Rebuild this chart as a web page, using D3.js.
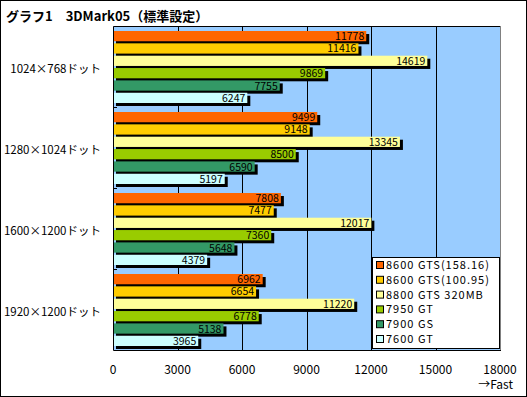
<!DOCTYPE html>
<html>
<head>
<meta charset="utf-8">
<style>
  body { margin: 0; background: white; }
  svg { display: block; font-family: 'Noto Sans CJK JP', 'DejaVu Sans', sans-serif; }
</style>
</head>
<body>
<svg width="527" height="397"></svg>
<script src="https://d3js.org/d3.v7.min.js"></script>
<script>
// data
let categories = ["1024×768ドット", "1280×1024ドット", "1600×1200ドット", "1920×1200ドット"];
let seriesNames = ["8600 GTS(158.16)", "8600 GTS(100.95)", "8800 GTS 320MB", "7950 GT", "7900 GS", "7600 GT"];
let seriesColors = ["#ff6600", "#ffcc00", "#ffff99", "#99cc00", "#339966", "#ccffff"];
let values = [
  [11778, 11416, 14619, 9869, 7755, 6247],
  [9499, 9148, 13345, 8500, 6590, 5197],
  [7808, 7477, 12017, 7360, 5648, 4379],
  [6962, 6654, 11220, 6778, 5138, 3965]
];
let xTicks = [0, 3000, 6000, 9000, 12000, 15000, 18000];

let svg = d3.select("svg");
let plot = {left: 113, right: 500, top: 26, bottom: 350};

// outer frame
svg.append("rect")
  .attr("x", 0.5).attr("y", 0.5)
  .attr("width", 526).attr("height", 396)
  .attr("fill", "white").attr("stroke", "black");

svg.append("text")
  .attr("x", 6).attr("y", 21)
  .attr("font-size", 13).attr("font-weight", "bold")
  .text("グラフ1　3DMark05（標準設定）");

let x = d3.scaleLinear().domain([0, 18000]).range([plot.left, plot.right]);
let y = d3.scaleBand().domain(categories).range([plot.top, plot.bottom]);
let yInner = d3.scaleBand().domain(seriesNames).range([5, 77]).paddingInner(0.17);

// plot background
svg.append("rect")
  .attr("x", plot.left).attr("y", plot.top)
  .attr("width", plot.right - plot.left).attr("height", plot.bottom - plot.top)
  .attr("fill", "#99ccff");

// gridlines
svg.append("g")
  .selectAll("line")
  .data(xTicks.slice(1, -1))
  .join("line")
  .attr("x1", d => Math.round(x(d)) + 0.5).attr("x2", d => Math.round(x(d)) + 0.5)
  .attr("y1", plot.top).attr("y2", plot.bottom)
  .attr("stroke", "black");

// plot border
svg.append("line").attr("x1", plot.right + 0.5).attr("x2", plot.right + 0.5)
  .attr("y1", plot.top).attr("y2", plot.bottom).attr("stroke", "#808080");
svg.append("path")
  .attr("d", `M${plot.right},${plot.top + 0.5}H${plot.left + 0.5}V${plot.bottom + 0.5}H${plot.right + 1}`)
  .attr("fill", "none").attr("stroke", "black");

// category ticks
svg.append("g")
  .selectAll("line")
  .data(categories.slice(1))
  .join("line")
  .attr("x1", plot.left).attr("x2", plot.left + 4)
  .attr("y1", d => y(d) + 0.5).attr("y2", d => y(d) + 0.5)
  .attr("stroke", "black");

// bars
let groups = svg.append("g")
  .selectAll("g")
  .data(values)
  .join("g")
  .attr("transform", (d, i) => `translate(0,${y(categories[i])})`);

let bars = groups.selectAll("g")
  .data(d => d.map((v, j) => ({v: v, name: seriesNames[j], color: seriesColors[j]})))
  .join("g");

bars.append("rect")
  .attr("x", plot.left + 3).attr("y", d => yInner(d.name) + 3)
  .attr("width", d => x(d.v) - plot.left).attr("height", yInner.bandwidth())
  .attr("fill", "black");

bars.append("rect")
  .attr("x", plot.left + 1).attr("y", d => yInner(d.name))
  .attr("width", d => x(d.v) - plot.left - 1).attr("height", yInner.bandwidth())
  .attr("fill", d => d.color);

bars.append("text")
  .attr("x", d => x(d.v) - 2).attr("y", d => yInner(d.name) + yInner.bandwidth() / 2 + 4)
  .attr("text-anchor", "end").attr("font-size", 10.5)
  .text(d => d.v);

// category labels
svg.append("g")
  .selectAll("text")
  .data(categories)
  .join("text")
  .attr("x", 101).attr("y", d => y(d) + y.bandwidth() / 2 + 6)
  .attr("text-anchor", "end").attr("font-size", 11.5)
  .text(d => d);

// x axis labels
svg.append("g")
  .selectAll("text")
  .data(xTicks)
  .join("text")
  .attr("x", d => x(d)).attr("y", 374)
  .attr("text-anchor", "middle").attr("font-size", 12)
  .text(d => d);

svg.append("text")
  .attr("x", 513).attr("y", 389)
  .attr("text-anchor", "end").attr("font-size", 12)
  .text("→Fast");

// legend
let legend = svg.append("g").attr("transform", "translate(372,257)");
legend.append("rect")
  .attr("x", 0.5).attr("y", 0.5).attr("width", 127).attr("height", 91)
  .attr("fill", "white").attr("stroke", "black");

let items = legend.selectAll("g.item")
  .data(seriesNames)
  .join("g")
  .attr("class", "item")
  .attr("transform", (d, i) => `translate(0,${8 + i * 14.8})`);

items.append("rect")
  .attr("x", 4.5).attr("y", -3.5).attr("width", 7).attr("height", 7)
  .attr("fill", (d, i) => seriesColors[i]).attr("stroke", "black");

items.append("text")
  .attr("x", 14).attr("y", 4)
  .attr("font-size", 11).attr("letter-spacing", 1)
  .text(d => d);
</script>
</body>
</html>
